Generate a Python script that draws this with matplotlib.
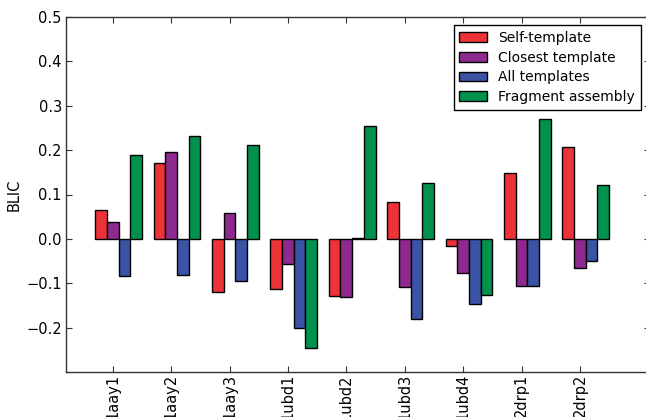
import numpy as np
import matplotlib
matplotlib.use('Agg')
import matplotlib.pyplot as plt

targets = ['1aay1', '1aay2', '1aay3', '1ubd1', '1ubd2', '1ubd3', '1ubd4', '2drp1', '2drp2']

self_template = [0.064, 0.170, -0.119, -0.112, -0.129, 0.082, -0.017, 0.149, 0.208]
closest_template = [0.038, 0.195, 0.058, -0.057, -0.132, -0.109, -0.077, -0.107, -0.065]
all_templates = [-0.083, -0.081, -0.094, -0.201, 0.003, -0.181, -0.146, -0.107, -0.049]
fragment_assembly = [0.188, 0.232, 0.212, -0.246, 0.255, 0.126, -0.127, 0.270, 0.122]

series = [
    ('Self-template', self_template, '#ee3338'),
    ('Closest template', closest_template, '#8e2a8e'),
    ('All templates', all_templates, '#3a53a4'),
    ('Fragment assembly', fragment_assembly, '#00924c'),
]

fig = plt.figure(figsize=(6.46, 4.17), dpi=100)
# right spine sits just past the figure edge
ax = fig.add_axes([66 / 646, 45 / 417, 584 / 646, 355 / 417])

ind = np.arange(len(targets))
width = 0.2
for j, (name, vals, color) in enumerate(series):
    ax.bar(ind - 0.3 + j * width, vals, width, align='edge', color=color,
           edgecolor='black', linewidth=1.0, label=name)

ax.set_xlim(-0.8, 9.2)
ax.set_ylim(-0.3, 0.5)
ax.set_xticks(ind)
ax.set_xticklabels(targets, rotation=90, fontsize=10.5)
ax.set_yticks([-0.2, -0.1, 0.0, 0.1, 0.2, 0.3, 0.4, 0.5])
ax.set_yticklabels(['\u22120.2', '\u22120.1', '0.0', '0.1', '0.2', '0.3', '0.4', '0.5'], fontsize=10.5)
ax.tick_params(direction='in', top=True, right=True, length=4, width=0.8,
               colors='#333333', labelcolor='black', pad=3)
ax.tick_params(axis='x', pad=1.5)
ax.set_ylabel('BLIC', fontsize=10.5, labelpad=3)
for s in ax.spines.values():
    s.set_color('#333333')
    s.set_linewidth(1.0)

leg = ax.legend(loc='upper right', bbox_to_anchor=(0.984, 0.977), fontsize=10,
                fancybox=False, framealpha=1, edgecolor='black',
                handlelength=2.0, borderaxespad=0, labelspacing=0.42)
leg.get_frame().set_linewidth(1.0)

fig.savefig('out.png', dpi=100)
